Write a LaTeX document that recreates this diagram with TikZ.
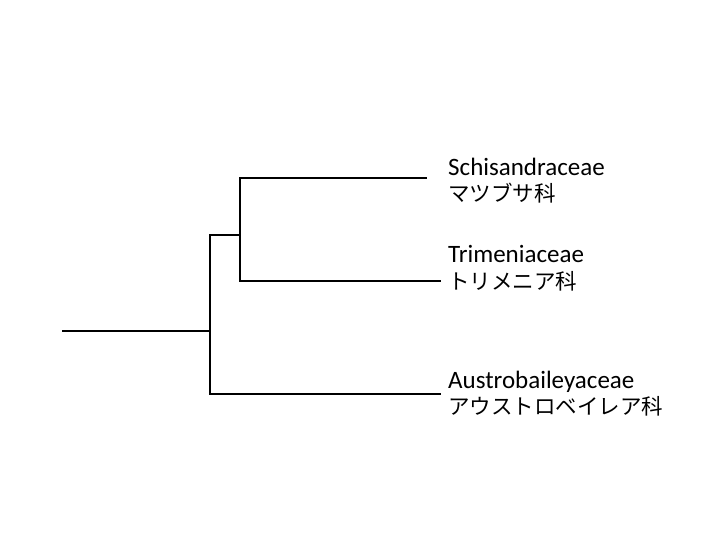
\documentclass[tikz,border=0pt]{standalone}
\usepackage{fontspec}
\setmainfont{Carlito}
\newfontfamily\cjk{Noto Sans CJK JP}
\begin{document}
\begin{tikzpicture}[x=1pt,y=-1pt,
  branch/.style={line width=1.7pt,line cap=rect,line join=miter},
  latin/.style={anchor=base west,inner sep=0pt,font=\fontsize{25}{28}\selectfont},
  jp/.style={anchor=base west,inner sep=0pt,font=\cjk\fontsize{21.5}{26}\selectfont}]
\useasboundingbox (0,0) rectangle (720,540);
% junctions and leaf ends
\coordinate (root) at (63,331);
\coordinate (n1) at (210,331);
\coordinate (n1t) at (210,235);
\coordinate (n1b) at (210,394);
\coordinate (n2) at (240,235);
\coordinate (n2t) at (240,178);
\coordinate (n2b) at (240,281);
\coordinate (l1) at (426,178);
\coordinate (l2) at (440,281);
\coordinate (l3) at (440,394);
% labels
\node[latin] (t1) at (448,176) {Schisandraceae};
\node[jp] (j1) at (448,202) {マツブサ科};
\node[latin] (t2) at (448,262) {Trimeniaceae};
\node[jp] (j2) at (448,289) {トリメニア科};
\node[latin] (t3) at (448,388) {Austrobaileyaceae};
\node[jp] (j3) at (448,414) {アウストロベイレア科};
% branches
\draw[branch] (root) -- (n1);
\draw[branch] (n1t) -- (n1b);
\draw[branch] (n1t) -- (n2);
\draw[branch] (n2t) -- (n2b);
\draw[branch] (n2t) -- (l1);
\draw[branch] (n2b) -- (l2);
\draw[branch] (n1b) -- (l3);
\end{tikzpicture}
\end{document}
